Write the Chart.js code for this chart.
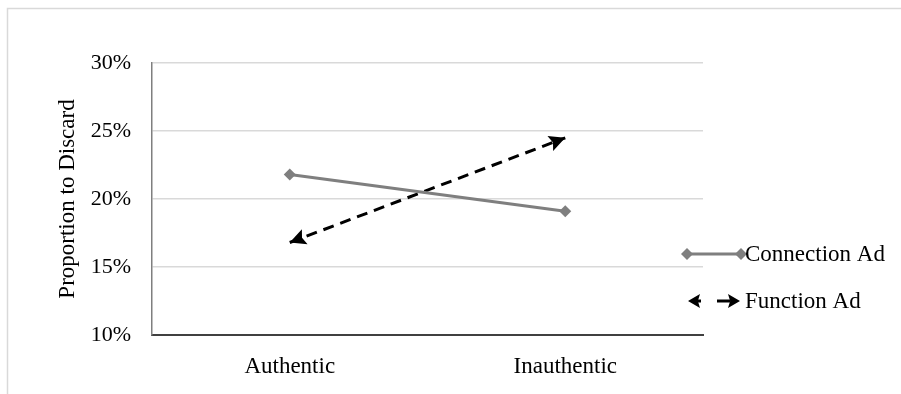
<!DOCTYPE html>
<html>
<head>
<meta charset="utf-8">
<script src="https://cdn.jsdelivr.net/npm/chart.js@4/dist/chart.umd.min.js"></script>
<style>
html,body{margin:0;padding:0;background:#fff;}
#wrap{width:901px;height:394px;}
</style>
</head>
<body>
<div id="wrap"><canvas id="c" width="901" height="394"></canvas></div>
<script>
const categories = ['Authentic', 'Inauthentic'];
const connectionAd = [21.8, 19.1];
const functionAd = [16.8, 24.5];
const seriesNames = ['Connection Ad', 'Function Ad'];
const yMin = 10, yMax = 30, yStep = 5;
const axisTitle = 'Proportion to Discard';

const FONT = "'Liberation Serif', 'Times New Roman', serif";

function arrowHead(ctx, fromX, fromY, tipX, tipY, len, half, color) {
  const a = Math.atan2(tipY - fromY, tipX - fromX);
  const cos = Math.cos(a), sin = Math.sin(a);
  const bx = tipX - len * cos, by = tipY - len * sin;
  const nx = tipX - len * 0.82 * cos, ny = tipY - len * 0.82 * sin;
  ctx.beginPath();
  ctx.moveTo(tipX, tipY);
  ctx.lineTo(bx - half * sin, by + half * cos);
  ctx.lineTo(nx, ny);
  ctx.lineTo(bx + half * sin, by - half * cos);
  ctx.closePath();
  ctx.fillStyle = color;
  ctx.fill();
}

const overlay = {
  id: 'overlay',
  beforeDraw(chart) {
    const c = chart.ctx;
    c.save();
    c.fillStyle = '#fff';
    c.fillRect(0, 0, chart.width, chart.height);
    c.strokeStyle = '#d9d9d9';
    c.lineWidth = 1.5;
    c.beginPath();
    c.moveTo(7.5, chart.height);
    c.lineTo(7.5, 8.5);
    c.lineTo(chart.width, 8.5);
    c.stroke();
    c.restore();
  },
  afterDatasetsDraw(chart) {
    const c = chart.ctx;
    const ds = chart.data.datasets[1];
    const pts = chart.getDatasetMeta(1).data;
    c.save();
    arrowHead(c, pts[1].x, pts[1].y, pts[0].x, pts[0].y, 16, 8, ds.borderColor);
    arrowHead(c, pts[0].x, pts[0].y, pts[1].x, pts[1].y, 16, 8, ds.borderColor);
    c.restore();
  },
  afterDraw(chart) {
    const c = chart.ctx;
    const d0 = chart.data.datasets[0], d1 = chart.data.datasets[1];
    c.save();
    const y1 = 254, y2 = 301, x0 = 687, x1 = 741, tx = 745;
    c.strokeStyle = d0.borderColor;
    c.lineWidth = d0.borderWidth;
    c.beginPath(); c.moveTo(x0, y1); c.lineTo(x1, y1); c.stroke();
    c.fillStyle = d0.pointBackgroundColor;
    [x0, x1].forEach(x => {
      c.beginPath();
      c.moveTo(x, y1 - 6); c.lineTo(x + 6, y1); c.lineTo(x, y1 + 6); c.lineTo(x - 6, y1);
      c.closePath(); c.fill();
    });
    c.strokeStyle = d1.borderColor;
    c.lineWidth = d1.borderWidth;
    c.beginPath(); c.moveTo(695, y2); c.lineTo(701, y2); c.stroke();
    c.beginPath(); c.moveTo(717, y2); c.lineTo(730, y2); c.stroke();
    arrowHead(c, 700, y2, 688, y2, 12, 7, d1.borderColor);
    arrowHead(c, 718, y2, 740, y2, 12, 7, d1.borderColor);
    c.fillStyle = '#000';
    c.font = '23px ' + FONT;
    c.textBaseline = 'middle';
    c.textAlign = 'left';
    c.fillText(d0.label, tx, y1 + 1);
    c.fillText(d1.label, tx, y2 + 1);
    c.restore();
  }
};

new Chart(document.getElementById('c'), {
  type: 'line',
  data: {
    labels: categories,
    datasets: [
      {
        label: seriesNames[0],
        data: connectionAd,
        borderColor: '#7f7f7f',
        backgroundColor: '#7f7f7f',
        pointBackgroundColor: '#7f7f7f',
        pointBorderColor: '#7f7f7f',
        borderWidth: 3,
        pointStyle: 'rectRot',
        pointRadius: 6,
        pointBorderWidth: 0,
        tension: 0
      },
      {
        label: seriesNames[1],
        data: functionAd,
        borderColor: '#000000',
        backgroundColor: '#000000',
        borderWidth: 3,
        borderDash: [11, 7],
        pointRadius: 0,
        tension: 0
      }
    ]
  },
  options: {
    responsive: false,
    animation: false,
    events: [],
    layout: { padding: { top: 63, right: 198, left: 0, bottom: 0 } },
    plugins: {
      legend: { display: false },
      tooltip: { enabled: false },
      title: { display: false }
    },
    scales: {
      x: {
        offset: true,
        grid: { display: false, drawTicks: false },
        border: { display: true, color: '#404040', width: 2 },
        ticks: { color: '#000', font: { family: FONT, size: 23 }, padding: 18, maxRotation: 0 },
        afterFit(s) { s.height = 394 - 335; }
      },
      y: {
        min: yMin,
        max: yMax,
        grid: { color: '#d9d9d9', lineWidth: 1.5, drawTicks: false },
        border: { display: true, color: '#7f7f7f', width: 1.5 },
        ticks: {
          stepSize: yStep,
          color: '#000',
          padding: 21,
          font: { family: FONT, size: 22 },
          callback: v => v + '%'
        },
        title: {
          display: true,
          text: axisTitle,
          color: '#000',
          font: { family: FONT, size: 23 },
          padding: { top: 54, bottom: 0 }
        },
        afterFit(s) { s.width = 152; }
      }
    }
  },
  plugins: [overlay]
});
</script>
</body>
</html>
